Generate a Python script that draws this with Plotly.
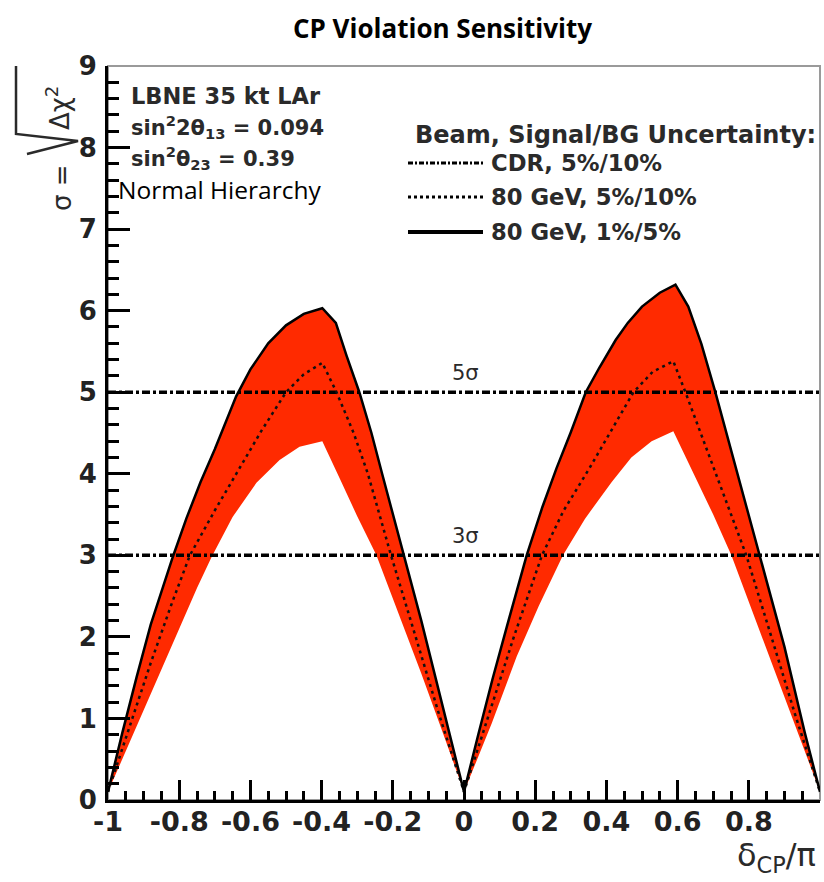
import plotly.graph_objects as go

# ---- data: sqrt(delta chi^2) vs delta_CP/pi ----
# 80 GeV, 1%/5% (upper edge of band)
upper_x = [-1.0, -0.96, -0.92, -0.88, -0.818, -0.78, -0.74, -0.70, -0.64, -0.60, -0.55,
           -0.50, -0.45, -0.398, -0.36, -0.33, -0.294, -0.26, -0.23, -0.168, -0.12, -0.08,
           -0.04, 0.0, 0.04, 0.08, 0.12, 0.176, 0.22, 0.26, 0.30, 0.342, 0.38, 0.426, 0.46,
           0.50, 0.55, 0.594, 0.63, 0.667, 0.706, 0.768, 0.832, 0.87, 0.90, 0.957, 1.0]
upper_y = [0.1, 0.82, 1.5, 2.15, 2.98, 3.45, 3.9, 4.3, 4.95, 5.28, 5.6,
           5.82, 5.96, 6.03, 5.85, 5.45, 5.0, 4.5, 4.0, 3.0, 2.2, 1.5,
           0.8, 0.1, 0.8, 1.48, 2.12, 3.0, 3.59, 4.07, 4.51, 5.0, 5.3, 5.64, 5.85,
           6.05, 6.22, 6.32, 6.05, 5.59, 5.0, 4.0, 3.0, 2.38, 1.88, 0.83, 0.1]

# 1%/5% spread, lower edge of band
lower_x = [-1.0, -0.95, -0.90, -0.85, -0.80, -0.75, -0.709, -0.65, -0.583, -0.518, -0.462,
           -0.398, -0.35, -0.30, -0.246, -0.18, -0.12, -0.06, 0.0, 0.078, 0.148, 0.21,
           0.278, 0.34, 0.415, 0.47, 0.527, 0.588, 0.64, 0.70, 0.751, 0.82, 0.88, 0.94, 1.0]
lower_y = [0.1, 0.6, 1.1, 1.62, 2.12, 2.6, 2.98, 3.47, 3.89, 4.17, 4.33,
           4.40, 3.95, 3.48, 3.0, 2.25, 1.55, 0.83, 0.1, 0.94, 1.76, 2.38,
           3.0, 3.45, 3.9, 4.2, 4.4, 4.52, 4.05, 3.5, 3.0, 2.2, 1.5, 0.8, 0.1]

# 80 GeV, 5%/10%
mid_x = [-1.0, -0.94, -0.88, -0.82, -0.77, -0.70, -0.64, -0.57, -0.50, -0.45, -0.398,
         -0.358, -0.31, -0.27, -0.205, -0.14, -0.07, 0.0, 0.07, 0.14, 0.219, 0.28, 0.35,
         0.41, 0.476, 0.53, 0.588, 0.622, 0.665, 0.709, 0.793, 0.86, 0.93, 1.0]
mid_y = [0.1, 0.9, 1.68, 2.42, 3.0, 3.55, 4.0, 4.52, 5.0, 5.22, 5.36,
         5.0, 4.5, 4.0, 3.0, 2.05, 1.05, 0.1, 1.05, 2.0, 3.0, 3.55, 4.05,
         4.5, 5.0, 5.25, 5.38, 5.0, 4.5, 4.0, 3.0, 2.05, 1.05, 0.1]

sigma_levels = [5, 3]
sigma_labels = ["5σ", "3σ"]

x_ticks = [-1, -0.8, -0.6, -0.4, -0.2, 0, 0.2, 0.4, 0.6, 0.8, 1]
x_tick_text = ["-1", "-0.8", "-0.6", "-0.4", "-0.2", "0", "0.2", "0.4", "0.6", "0.8", "1"]
y_ticks = list(range(0, 10))

legend_title = "Beam, Signal/BG Uncertainty:"
legend_names = ["CDR, 5%/10%", "80 GeV, 5%/10%", "80 GeV, 1%/5%"]
info_lines = ["LBNE 35 kt LAr", "sin<sup>2</sup>2θ<sub>13</sub> = 0.094",
              "sin<sup>2</sup>θ<sub>23</sub> = 0.39"]

# ---- geometry of the plotting area (pixels) ----
W, H = 824, 882
L, R, T, B = 108, 820, 66, 800


def px(x):
    return (x - L) / (R - L)


def py(y):
    return (B - y) / (B - T)


SANS = "DejaVu Sans, Verdana, sans-serif"
TXT = "#2a2a2a"
RED = "#ff2a00"

fig = go.Figure()

# shaded band between the two edges
fig.add_trace(go.Scatter(x=lower_x, y=lower_y, mode="lines", line=dict(width=0),
                         showlegend=False, hoverinfo="skip"))
fig.add_trace(go.Scatter(x=upper_x, y=upper_y, mode="lines", line=dict(width=0),
                         fill="tonexty", fillcolor=RED, showlegend=False, hoverinfo="skip"))

# sigma reference lines
for lvl in sigma_levels:
    fig.add_trace(go.Scatter(x=[-1, 1], y=[lvl, lvl], mode="lines",
                             line=dict(color="black", width=3.5, dash="8px,3px,3px,3px"),
                             showlegend=False, hoverinfo="skip"))

# curves
fig.add_trace(go.Scatter(x=mid_x, y=mid_y, mode="lines", name=legend_names[1],
                         line=dict(color="#111111", width=2.5, dash="3px,4px"),
                         showlegend=False))
fig.add_trace(go.Scatter(x=upper_x, y=upper_y, mode="lines", name=legend_names[2],
                         line=dict(color="black", width=2.5), showlegend=False))

shapes = []
annotations = []

# thin frame on top and right
shapes.append(dict(type="rect", xref="paper", yref="paper", x0=0, x1=1, y0=0, y1=1,
                   line=dict(color="#9a9a9a", width=2), layer="below"))

# sigma labels
for lvl, lab in zip(sigma_levels, sigma_labels):
    annotations.append(dict(x=0.005, y=lvl + 0.24, xref="x", yref="y", text=lab,
                            showarrow=False, yanchor="middle",
                            font=dict(family=SANS, size=21, color=TXT)))

# info block
info_sizes = [22.5, 21, 21]
for i, (line, sz) in enumerate(zip(info_lines, info_sizes)):
    annotations.append(dict(x=px(129), y=py(96 + i * 31), xref="paper", yref="paper",
                            text="<b>" + line + "</b>", showarrow=False,
                            xanchor="left", yanchor="middle",
                            font=dict(family=SANS, size=sz, color=TXT)))
annotations.append(dict(x=px(116), y=py(189), xref="paper", yref="paper",
                        text="Normal Hierarchy", showarrow=False,
                        xanchor="left", yanchor="middle",
                        font=dict(family="Open Sans, sans-serif", size=24.5, color="black")))

# legend block
annotations.append(dict(x=px(413), y=py(135), xref="paper", yref="paper",
                        text="<b>" + legend_title + "</b>", showarrow=False,
                        xanchor="left", yanchor="middle",
                        font=dict(family=SANS, size=24, color=TXT)))
legend_rows = [163, 197, 232]
legend_dash = ["5px,2px,2px,2px", "3px,3px", None]
legend_width = [3, 3, 4]
for name, row, dsh, lw in zip(legend_names, legend_rows, legend_dash, legend_width):
    ln = dict(color="black", width=lw)
    if dsh:
        ln["dash"] = dsh
    shapes.append(dict(type="line", xref="paper", yref="paper",
                       x0=px(408), x1=px(483), y0=py(row), y1=py(row), line=ln))
    annotations.append(dict(x=px(489), y=py(row), xref="paper", yref="paper",
                            text="<b>" + name + "</b>", showarrow=False,
                            xanchor="left", yanchor="middle",
                            font=dict(family=SANS, size=22.7, color=TXT)))

# y-axis title: sigma = sqrt(delta chi^2)
annotations.append(dict(x=px(62), y=py(187), xref="paper", yref="paper",
                        text="σ =", textangle=-90, showarrow=False,
                        xanchor="center", yanchor="middle",
                        font=dict(family=SANS, size=26, color=TXT)))
annotations.append(dict(x=px(58), y=py(108), xref="paper", yref="paper",
                        text="Δχ<sup>2</sup>", textangle=-90, showarrow=False,
                        xanchor="center", yanchor="middle",
                        font=dict(family=SANS, size=26, color=TXT)))
rad = [(16, 66), (16, 134), (78, 141), (27, 154)]
path = "M " + " L ".join(f"{px(a):.4f},{py(b):.4f}" for a, b in rad)
shapes.append(dict(type="path", xref="paper", yref="paper", path=path,
                   line=dict(color=TXT, width=2.5)))

# x-axis title
annotations.append(dict(x=px(818), y=py(857), xref="paper", yref="paper",
                        text="δ<sub>CP</sub>/π", showarrow=False,
                        xanchor="right", yanchor="middle",
                        font=dict(family=SANS, size=32, color=TXT)))

fig.update_layout(
    width=W, height=H,
    margin=dict(l=L, r=W - R, t=T, b=H - B, pad=0),
    paper_bgcolor="white", plot_bgcolor="white",
    title=dict(text="<b>CP Violation Sensitivity</b>", x=0.537, xanchor="center",
               y=1 - 29 / H, yanchor="middle",
               font=dict(family="Open Sans, sans-serif", size=26, color="black")),
    shapes=shapes, annotations=annotations, showlegend=False,
)

fig.update_xaxes(range=[-1, 1], tickvals=x_ticks, ticktext=x_tick_text,
                 ticks="inside", ticklen=20, tickwidth=3, tickcolor="black",
                 minor=dict(dtick=0.05, ticks="inside", ticklen=9, tickwidth=2.5,
                            tickcolor="black"),
                 showline=True, linecolor="black", linewidth=3, showgrid=False,
                 zeroline=False, automargin=False, ticklabelstandoff=-4,
                 tickfont=dict(family=SANS, size=27, color="#222222", weight="bold"))
fig.update_yaxes(range=[0, 9], tickvals=y_ticks,
                 ticks="inside", ticklen=22, tickwidth=3, tickcolor="black",
                 minor=dict(dtick=0.2, ticks="inside", ticklen=11, tickwidth=2.5,
                            tickcolor="black"),
                 showline=True, linecolor="black", linewidth=3, showgrid=False,
                 zeroline=False, automargin=False, ticklabelstandoff=3,
                 tickfont=dict(family=SANS, size=26, color="#222222", weight="bold"))

fig.write_html("out.html")
